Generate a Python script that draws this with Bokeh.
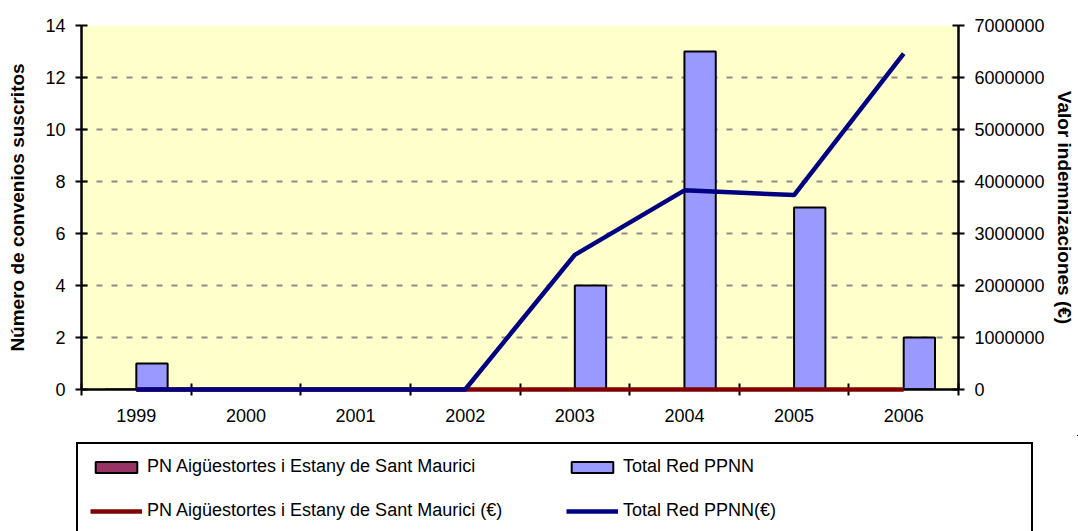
from bokeh.plotting import figure
from bokeh.layouts import column
from bokeh.models import (Range1d, LinearAxis, FixedTicker, Legend, LegendItem,
                          PrintfTickFormatter)
from bokeh.embed import file_html
from bokeh.resources import INLINE
import numpy as np

# ---- data ----
years = ["1999", "2000", "2001", "2002", "2003", "2004", "2005", "2006"]
convenios_pn = [0, 0, 0, 0, 0, 0, 0, 0]
convenios_total = [1, 0, 0, 0, 4, 13, 7, 2]
euros_pn = [0, 0, 0, 0, 0, 0, 0, 0]
euros_total = [0, 0, 0, 0, 2590000, 3830000, 3740000, 6460000]
left_ticks = [0, 2, 4, 6, 8, 10, 12, 14]
right_ticks = [0, 1000000, 2000000, 3000000, 4000000, 5000000, 6000000, 7000000]
labels = ["PN Aigüestortes i Estany de Sant Maurici", "Total Red PPNN",
          "PN Aigüestortes i Estany de Sant Maurici (€)", "Total Red PPNN(€)"]

FONT = "Liberation Sans"
PN_FILL, TOT_FILL = "#993366", "#9999FF"
PN_LINE, TOT_LINE = "#800000", "#000080"
n = len(years)
centers = np.arange(n) + 0.5
bw = 1 / 3.5

p = figure(width=1078, height=435, x_range=Range1d(0, n), y_range=Range1d(0, 14),
           output_backend="svg", toolbar_location=None,
           min_border_left=81, min_border_right=120, min_border_top=25, min_border_bottom=46,
           background_fill_color="#FFFFCC", border_fill_color="white")
p.outline_line_color = None
p.frame_align = False
p.extra_y_ranges = {"eur": Range1d(0, 7000000)}

# grid
p.xgrid.visible = False
p.ygrid.ticker = FixedTicker(ticks=left_ticks)
p.ygrid.grid_line_color = "#8c8c8c"
p.ygrid.grid_line_width = 2
p.ygrid.grid_line_dash = "6 9"

# bars
r_pn = p.vbar(x=centers - bw / 2, top=convenios_pn, width=bw,
              fill_color=PN_FILL, line_color="black", line_width=2)
r_tot = p.vbar(x=centers + bw / 2, top=convenios_total, width=bw,
               fill_color=TOT_FILL, line_color="black", line_width=2)

# lines (drawn above the axes, as in the reference)
l_pn = p.line(centers, euros_pn, y_range_name="eur", line_color=PN_LINE, line_width=4.5,
              level="overlay")
l_tot = p.line(centers, euros_total, y_range_name="eur", line_color=TOT_LINE, line_width=4.5,
               level="overlay")

# x axis
xa = p.xaxis[0]
xa.ticker = FixedTicker(ticks=list(centers), minor_ticks=list(range(0, n + 1)))
xa.major_label_overrides = {float(c): y for c, y in zip(centers, years)}
xa.major_tick_in = 0
xa.major_tick_out = 0
xa.minor_tick_in = 6
xa.minor_tick_out = 6
xa.minor_tick_line_color = "black"
xa.minor_tick_line_width = 2
xa.major_label_standoff = 13

# left axis
ya = p.yaxis[0]
ya.ticker = FixedTicker(ticks=left_ticks)
ya.axis_label = "Número de convenios suscritos"
ya.axis_label_standoff = 14

# right axis
ra = LinearAxis(y_range_name="eur", ticker=FixedTicker(ticks=right_ticks),
                formatter=PrintfTickFormatter(format="%d"),
                axis_label="Valor indemnizaciones (€)")
ra.axis_label_standoff = 6
p.add_layout(ra, "right")

for ax in (xa, ya, ra):
    ax.axis_line_color = "black"
    ax.axis_line_width = 2.5
    ax.major_tick_line_color = "black"
    ax.major_tick_line_width = 2
    ax.major_label_text_font = FONT
    ax.major_label_text_font_size = "18px"
    ax.major_label_text_color = "black"
    ax.axis_label_text_font = FONT
    ax.axis_label_text_font_size = "19px"
    ax.axis_label_text_font_style = "bold"
    ax.axis_label_text_color = "black"
for ax in (ya, ra):
    ax.major_tick_in = 6
    ax.major_tick_out = 6
    ax.minor_tick_line_color = None
    ax.major_label_standoff = 10
xa.major_tick_line_color = None

# ---- legend strip below the chart ----
# proxy renderers carry the same data/styles; the strip's ranges keep them off-screen
lg = figure(width=1078, height=96, x_range=Range1d(-100, -99), y_range=Range1d(-100, -99),
            output_backend="svg", toolbar_location=None, min_border=0,
            border_fill_color="white", background_fill_color="white")
lg.frame_align = False
lg.outline_line_color = None
lg.xaxis.visible = False
lg.yaxis.visible = False
lg.xgrid.visible = False
lg.ygrid.visible = False
d_pn = lg.vbar(x=centers - bw / 2, top=convenios_pn, width=bw,
               fill_color=PN_FILL, line_color="black", line_width=2)
d_tot = lg.vbar(x=centers + bw / 2, top=convenios_total, width=bw,
                fill_color=TOT_FILL, line_color="black", line_width=2)
d_lpn = lg.line(centers, euros_pn, line_color=PN_LINE, line_width=4.5)
d_ltot = lg.line(centers, euros_total, line_color=TOT_LINE, line_width=4.5)

items = [LegendItem(label=labels[0], renderers=[d_pn]),
         LegendItem(label=labels[1], renderers=[d_tot]),
         LegendItem(label=labels[2], renderers=[d_lpn]),
         LegendItem(label=labels[3], renderers=[d_ltot])]
legend = Legend(items=items, orientation="horizontal", ncols=2,
                location=(76, -4), margin=0, padding=12, spacing=23,
                glyph_width=52, glyph_height=14, label_standoff=5, label_width=396,
                label_text_font=FONT, label_text_font_size="18px", label_text_color="black",
                border_line_color="black", border_line_width=2, border_line_alpha=1,
                background_fill_color="white", background_fill_alpha=1)
lg.add_layout(legend, "center")

open("out.html", "w").write(file_html(column(p, lg, spacing=0), INLINE))
